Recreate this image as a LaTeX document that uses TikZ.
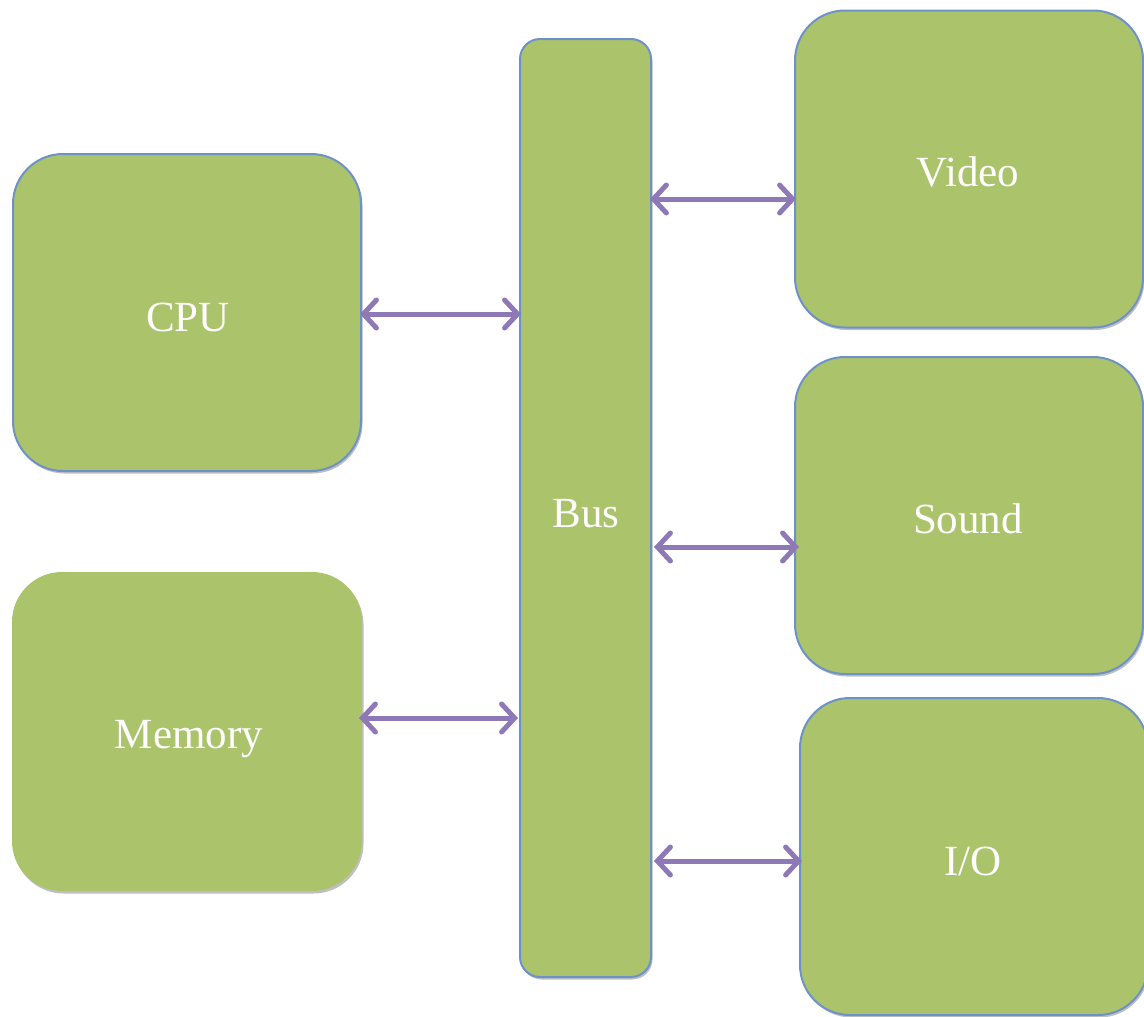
\documentclass[tikz,border=0pt]{standalone}
\usepackage{fontspec}
\setmainfont{Liberation Serif}
\usetikzlibrary{arrows.meta,shadows}
\definecolor{boxfill}{RGB}{171,195,107}
\definecolor{boxline}{RGB}{110,146,200}
\definecolor{arrcol}{RGB}{143,120,182}
\tikzset{
  box/.style={rectangle, rounded corners=50pt, fill=boxfill, draw=boxline, line width=2pt,
    minimum width=348pt, minimum height=317pt, inner sep=0pt,
    drop shadow={shadow xshift=1.5pt, shadow yshift=-2.5pt, opacity=0.25, fill=black}},
  nbox/.style={box, draw=none},
  busbox/.style={box, rounded corners=20pt, minimum width=131pt, minimum height=938pt},
  lbl/.style={anchor=base, text=white, font=\fontsize{43}{50}\selectfont, inner sep=0pt},
  arr/.style={draw=arrcol, line width=5pt, line cap=round,
    {Straight Barb[length=13pt,width=28pt,line width=5pt,line cap=round]}-{Straight Barb[length=13pt,width=28pt,line width=5pt,line cap=round]},
    shorten <=-3pt, shorten >=-3pt}
}
\begin{document}
\begin{tikzpicture}[x=1pt,y=-1pt]
\useasboundingbox (0,0) rectangle (1144,1017);
\node[busbox] (bus) at (585.5,508) {};
\node[box] (cpu) at (187,312.5) {};
\node[nbox, minimum width=350pt, minimum height=319pt] (mem) at (187,731.5) {};
\node[box] (video) at (969,169) {};
\node[box] (sound) at (969,515.5) {};
\node[box] (io) at (974,856.5) {};
\node[lbl] (buslbl) at (586,527) {Bus};
\node[lbl] (cpulbl) at (188,331) {CPU};
\node[lbl] (memlbl) at (189,748) {Memory};
\node[lbl] (videolbl) at (968,186) {Video};
\node[lbl] (soundlbl) at (968,533) {Sound};
\node[lbl] (iolbl) at (973,875) {I/O};
\draw[arr] ([xshift=1pt]cpu.east |- 0,314) -- ([xshift=-1pt]bus.west |- 0,314);
\draw[arr] ([xshift=-1pt]mem.east |- 0,718) -- ([xshift=-4pt]bus.west |- 0,718);
\draw[arr] ([xshift=1pt]bus.east |- 0,199) -- ([xshift=-1pt]video.west |- 0,199);
\draw[arr] ([xshift=5pt]bus.east |- 0,547) -- ([xshift=2pt]sound.west |- 0,547);
\draw[arr] ([xshift=5pt]bus.east |- 0,861) -- (io.west |- 0,861);
\end{tikzpicture}
\end{document}
